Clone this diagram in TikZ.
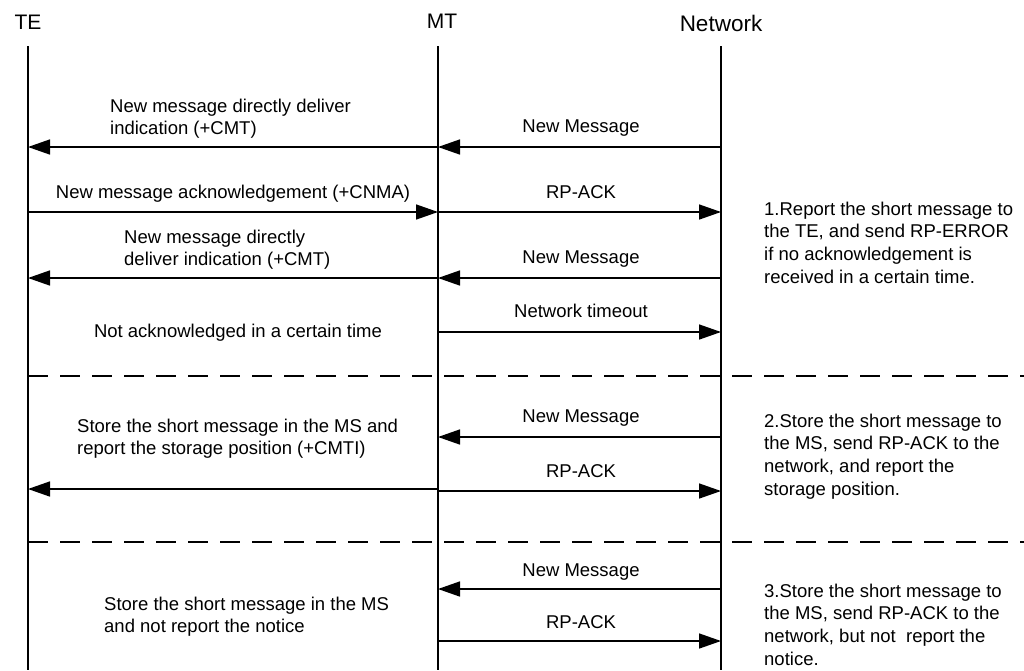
\documentclass[tikz,border=0pt]{standalone}
\usepackage{fontspec}
\setmainfont{Liberation Sans}
\usetikzlibrary{arrows.meta}
\begin{document}
\begin{tikzpicture}[x=1pt,y=-1pt,
  lbl/.style={font=\fontsize{18.5}{22.7}\selectfont, inner sep=0},
  head/.style={font=\fontsize{21}{24}\selectfont, inner sep=0, anchor=base},
  life/.style={line width=1.2pt},
  msg/.style={line width=1.5pt, -{Triangle[length=22pt,width=15pt]}},
  sep/.style={line width=1.4pt, dash pattern=on 20pt off 12pt}]
\useasboundingbox (0,0) rectangle (1024,670);
% headers
\node[head] (teH) at (28,29.5) {TE};
\node[head] (mtH) at (442,28.5) {MT};
\node[head, font=\fontsize{22.5}{26}\selectfont] (nwH) at (721,31.5) {Network};
% lifelines
\coordinate (te) at (28,46);   \coordinate (teB) at (28,670);
\coordinate (mt) at (438,46);  \coordinate (mtB) at (438,670);
\coordinate (nw) at (721,46);  \coordinate (nwB) at (721,670);
\draw[life] (te) -- (teB);
\draw[life] (mt) -- (mtB);
\draw[life] (nw) -- (nwB);
% row coordinates
\coordinate (r1) at (0,147);
\coordinate (r2) at (0,212);
\coordinate (r3) at (0,278);
\coordinate (r4) at (0,332);
\coordinate (r5) at (0,437);
\coordinate (r6) at (0,491);
\coordinate (r6b) at (0,489);
\coordinate (r7) at (0,589);
\coordinate (r8) at (0,641);
% separators
\coordinate (d1r) at (1024,376);
\coordinate (d2r) at (1024,542);
\draw[sep] (te |- d1r) -- (d1r);
\draw[sep] (te |- d2r) -- (d2r);
% section 1
\draw[msg] (nw |- r1) -- (mt |- r1);
\draw[msg] (mt |- r1) -- (te |- r1);
\node[lbl, anchor=base] (m1) at (581,132) {New Message};
\node[lbl, anchor=base west] (t1) at (110,112) {\begin{tabular}[t]{@{}l@{}}New message directly deliver\\indication (+CMT)\end{tabular}};
\draw[msg] (te |- r2) -- (mt |- r2);
\draw[msg] (mt |- r2) -- (nw |- r2);
\node[lbl, anchor=base] (t2) at (233,198) {New message acknowledgement (+CNMA)};
\node[lbl, anchor=base] (m2) at (581,198) {RP-ACK};
\draw[msg] (nw |- r3) -- (mt |- r3);
\draw[msg] (mt |- r3) -- (te |- r3);
\node[lbl, anchor=base] (m3) at (581,263) {New Message};
\node[lbl, anchor=base west] (t3) at (124,243) {\begin{tabular}[t]{@{}l@{}}New message directly\\deliver indication (+CMT)\end{tabular}};
\draw[msg] (mt |- r4) -- (nw |- r4);
\node[lbl, anchor=base] (m4) at (581,317) {Network timeout};
\node[lbl, anchor=base] (t4) at (238,337) {Not acknowledged in a certain time};
\node[lbl, anchor=base west] (s1) at (764,215) {\begin{tabular}[t]{@{}l@{}}1.Report the short message to\\the TE, and send RP-ERROR\\if no acknowledgement is\\received in a certain time.\end{tabular}};
% section 2
\draw[msg] (nw |- r5) -- (mt |- r5);
\node[lbl, anchor=base] (m5) at (581,422) {New Message};
\draw[msg] (mt |- r6) -- (nw |- r6);
\draw[msg] (mt |- r6b) -- (te |- r6b);
\node[lbl, anchor=base] (m6) at (581,477) {RP-ACK};
\node[lbl, anchor=base west] (t5) at (77,432) {\begin{tabular}[t]{@{}l@{}}Store the short message in the MS and\\report the storage position (+CMTI)\end{tabular}};
\node[lbl, anchor=base west] (s2) at (764,427) {\begin{tabular}[t]{@{}l@{}}2.Store the short message to\\the MS, send RP-ACK to the\\network, and report the\\storage position.\end{tabular}};
% section 3
\draw[msg] (nw |- r7) -- (mt |- r7);
\node[lbl, anchor=base] (m7) at (581,576) {New Message};
\draw[msg] (mt |- r8) -- (nw |- r8);
\node[lbl, anchor=base] (m8) at (581,628) {RP-ACK};
\node[lbl, anchor=base west] (t6) at (104,610) {\begin{tabular}[t]{@{}l@{}}Store the short message in the MS\\and not report the notice\end{tabular}};
\node[lbl, anchor=base west] (s3) at (764,597) {\begin{tabular}[t]{@{}l@{}}3.Store the short message to\\the MS, send RP-ACK to the\\network, but not~ report the\\notice.\end{tabular}};
\end{tikzpicture}
\end{document}
